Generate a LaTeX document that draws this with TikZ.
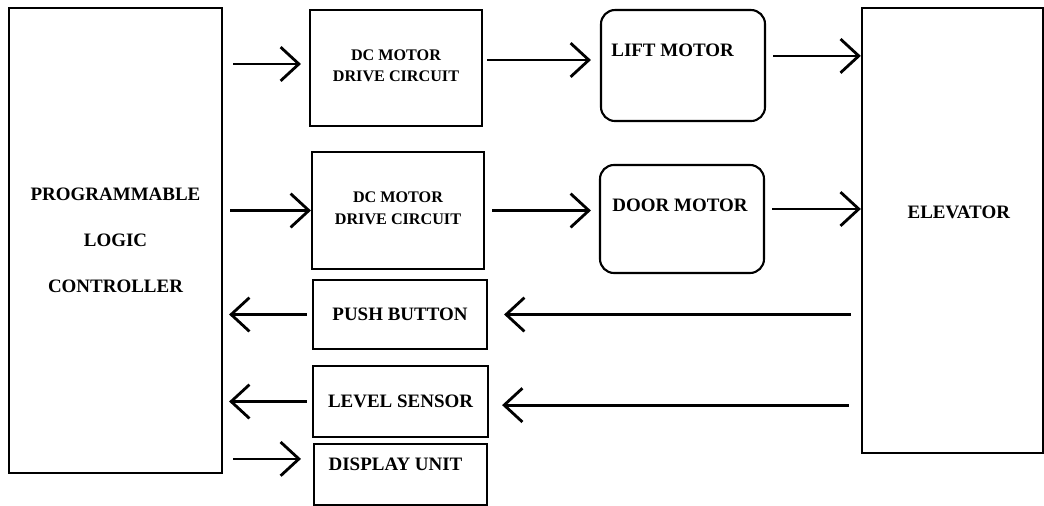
\documentclass[tikz,border=0pt]{standalone}
\usepackage{fontspec}
\setmainfont{Liberation Serif}
\usetikzlibrary{arrows.meta}

\begin{document}
\begin{tikzpicture}[>={Straight Barb[length=13pt,width=24pt]},
  blk/.style={draw, line width=1.5pt, inner sep=0pt, font=\fontsize{13.5}{32.7}\selectfont\bfseries, align=center},
  rblk/.style={blk, rounded corners=0.35cm},
  drv/.style={blk, font=\fontsize{11.5}{14.9}\selectfont\bfseries},
  arr/.style={->, line width=2pt}]
  \useasboundingbox (0,0) rectangle (26.1,-12.65);
  % bloques
  \node[blk, minimum width=5.325cm, minimum height=11.625cm] (plc) at (2.888,-6.013)
    {PROGRAMMABLE\\LOGIC\\CONTROLLER};
  \node[drv, minimum width=4.3cm, minimum height=2.9cm] (dca) at (9.9,-1.7)
    {\raisebox{0.11cm}{\shortstack{DC MOTOR\\[4.5pt]DRIVE CIRCUIT}}};
  \node[drv, minimum width=4.3cm, minimum height=2.925cm] (dcb) at (9.95,-5.263)
    {\raisebox{0.12cm}{\shortstack{DC MOTOR\\[4.5pt]DRIVE CIRCUIT}}};
  \node[rblk, minimum width=4.1cm, minimum height=2.775cm, label={[xshift=-0.26cm, yshift=0.39cm, font=\fontsize{13.5}{16}\selectfont\bfseries]center:LIFT MOTOR}] (lift) at (17.075,-1.638) {};
  \node[rblk, minimum width=4.1cm, minimum height=2.7cm, label={[xshift=-0.05cm, yshift=0.35cm, font=\fontsize{13.5}{16}\selectfont\bfseries]center:DOOR MOTOR}] (door) at (17.05,-5.475) {};
  \node[blk, minimum width=4.525cm, minimum height=11.125cm, label={[xshift=0.16cm, yshift=0.46cm, font=\fontsize{13.5}{16}\selectfont\bfseries]center:ELEVATOR}] (elev) at (23.81,-5.763) {};
  \node[blk, minimum width=4.35cm, minimum height=1.725cm] (push) at (10.0,-7.863) {PUSH BUTTON};
  \node[blk, minimum width=4.375cm, minimum height=1.775cm] (level) at (10.013,-10.038) {LEVEL SENSOR};
  \node[blk, minimum width=4.325cm, minimum height=1.525cm, label={[xshift=-0.125cm, yshift=0.26cm, font=\fontsize{13.5}{16}\selectfont\bfseries]center:DISPLAY UNIT}] (disp) at (10.013,-11.863) {};
  % salidas del controlador
  \draw[arr, shorten <=0.25cm, shorten >=0.2cm] ([yshift=1mm]dca.west -| plc.east) -- ([yshift=1mm]dca.west);
  \draw[arr, shorten <=0.175cm] (dcb.west -| plc.east) -- (dcb.west);
  \draw[arr, shorten <=0.25cm, shorten >=0.3cm] ([yshift=0.39cm]disp.west -| plc.east) -- ([yshift=0.39cm]disp.west);
  % motores
  \draw[arr, shorten <=0.1cm, shorten >=0.225cm] ([yshift=2mm]dca.east) -- ([yshift=2mm]dca.east -| lift.west);
  \draw[arr, shorten <=0.175cm, shorten >=0.2cm] (dcb.east) -- (dcb.east -| door.west);
  \draw[arr, shorten <=0.175cm] ([yshift=0.24cm]lift.east) -- ([yshift=0.24cm]lift.east -| elev.west);
  \draw[arr, shorten <=0.175cm] ([yshift=0.25cm]door.east) -- ([yshift=0.25cm]door.east -| elev.west);
  % entradas
  \draw[arr, shorten <=0.25cm, shorten >=0.4cm] (push.east -| elev.west) -- (push.east);
  \draw[arr, shorten <=0.3cm, shorten >=0.325cm] ([yshift=-0.09cm]level.east -| elev.west) -- ([yshift=-0.09cm]level.east);
  \draw[arr, shorten <=0.125cm, shorten >=0.15cm] (push.west) -- (push.west -| plc.east);
  \draw[arr, shorten <=0.125cm, shorten >=0.15cm] (level.west) -- (level.west -| plc.east);
\end{tikzpicture}
\end{document}
